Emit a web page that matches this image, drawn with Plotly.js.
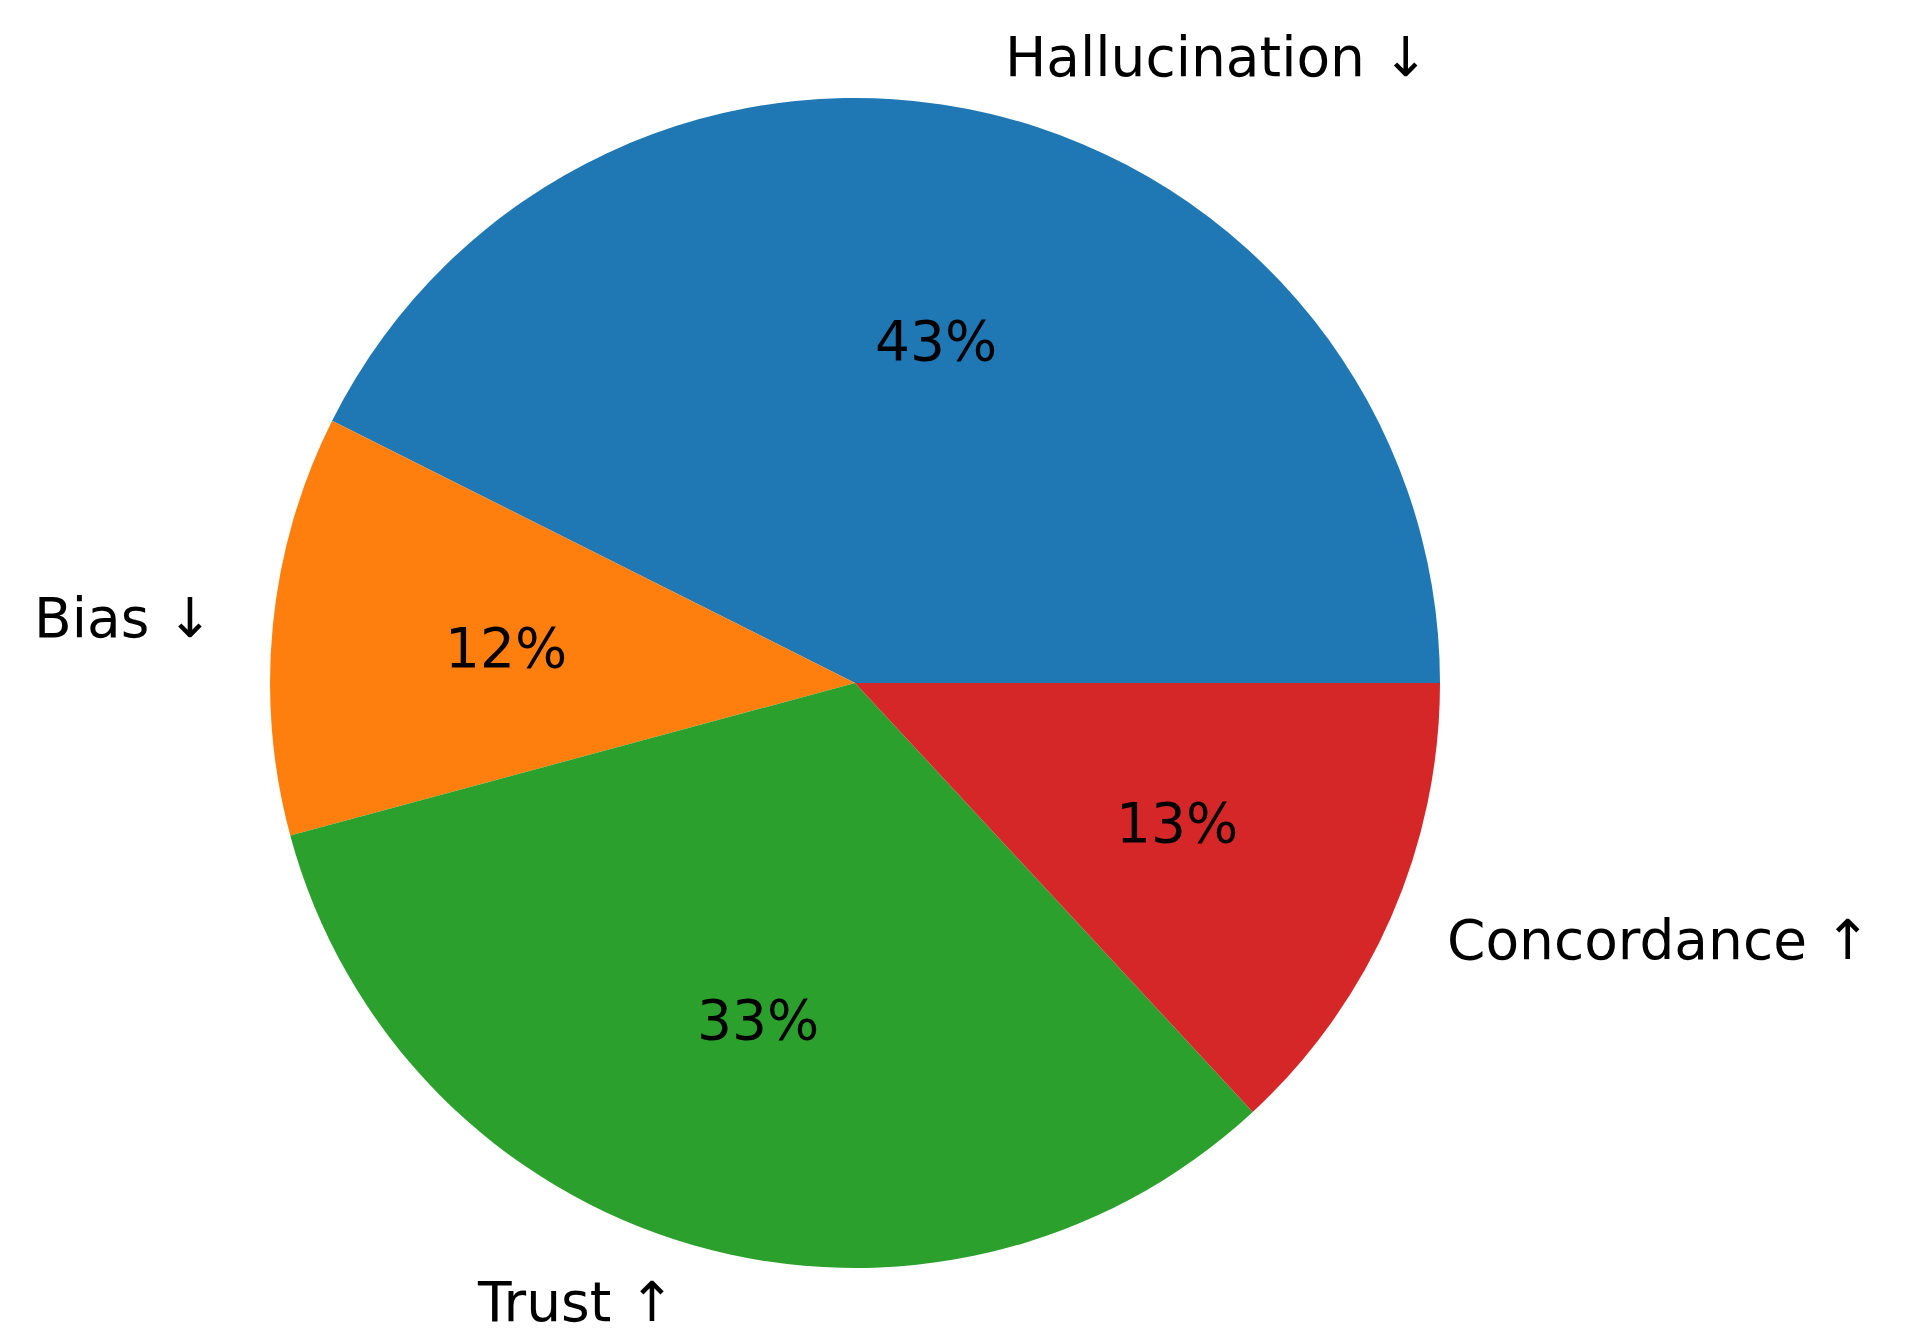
<!DOCTYPE html>
<html>
<head>
<meta charset="utf-8">
<script src="https://cdn.plot.ly/plotly-3.0.1.min.js"></script>
<style>html,body{margin:0;padding:0;background:#fff;}#chart{width:1910px;height:1331px;}</style>
</head>
<body>
<div id="chart"></div>
<script>
const labels = ["Hallucination ↓", "Bias ↓", "Trust ↑", "Concordance ↑"];
const values = [42.6, 11.6, 32.7, 13.1];
const colors = ["#1f77b4", "#ff7f0e", "#2ca02c", "#d62728"];

const W = 1910, H = 1331;
const cx = 855, cyTop = 683, R = 585;
const cy = H - cyTop;
const FONT = "DejaVu Sans, sans-serif";
const FS = 55;

const total = values.reduce((a, b) => a + b, 0);
const annotations = [];
let start = 0;
values.forEach((v, i) => {
  const frac = v / total;
  const mid = (start + frac / 2) * 2 * Math.PI;
  start += frac;
  const c = Math.cos(mid), s = Math.sin(mid);
  annotations.push({
    xref: "paper", yref: "paper",
    x: (cx + 0.6 * R * c) / W, y: (cy + 0.6 * R * s) / H,
    text: Math.round(frac * 100) + "%",
    showarrow: false, xanchor: "center", yanchor: "middle",
    font: {family: FONT, size: FS, color: "#000"}
  });
  annotations.push({
    xref: "paper", yref: "paper",
    x: (cx + 1.1 * R * c) / W, y: (cy + 1.1 * R * s) / H,
    text: labels[i],
    showarrow: false, xanchor: c > 0 ? "left" : "right", yanchor: "middle",
    font: {family: FONT, size: FS, color: "#000"}
  });
});

// Plotly (counterclockwise) puts the first slice on the clockwise side of the
// rotation point, so shift by the first slice's angle to start it at 3 o'clock.
const rotation = 90 - 360 * values[0] / total;

const data = [{
  type: "pie",
  labels: labels,
  values: values,
  sort: false,
  direction: "counterclockwise",
  rotation: rotation,
  marker: {colors: colors, line: {width: 0}},
  textinfo: "none",
  hoverinfo: "label+percent",
  showlegend: false,
  domain: {x: [(cx - R) / W, (cx + R) / W], y: [(cy - R) / H, (cy + R) / H]}
}];

const layout = {
  width: W, height: H,
  margin: {l: 0, r: 0, t: 0, b: 0},
  paper_bgcolor: "#fff",
  plot_bgcolor: "#fff",
  showlegend: false,
  annotations: annotations
};

Plotly.newPlot("chart", data, layout, {displayModeBar: false, staticPlot: true});
</script>
</body>
</html>
